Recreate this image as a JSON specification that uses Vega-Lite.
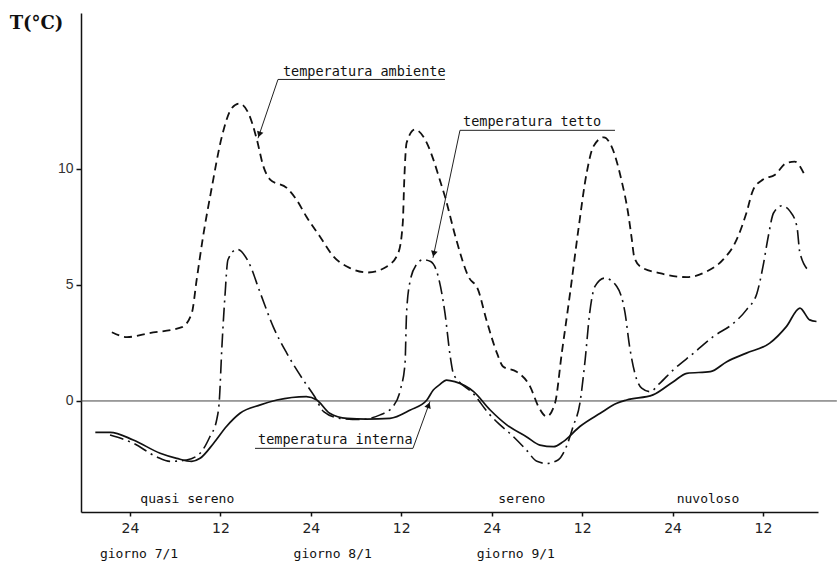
{
  "$schema": "https://vega.github.io/schema/vega-lite/v6.json",
  "width": 737,
  "height": 499,
  "autosize": "none",
  "padding": {"left": 81, "top": 13, "right": 19, "bottom": 54},
  "background": "white",
  "config": {"view": {"stroke": null}},
  "datasets": {
    "temps": [
      {"s": "ambiente", "h": -2.4, "v": 2.96}, {"s": "ambiente", "h": -0.4, "v": 2.75}, {"s": "ambiente", "h": 2.6, "v": 2.92}, {"s": "ambiente", "h": 6.9, "v": 3.18}, {"s": "ambiente", "h": 8.2, "v": 3.78}, {"s": "ambiente", "h": 8.85, "v": 5.22}, {"s": "ambiente", "h": 9.7, "v": 7.08}, {"s": "ambiente", "h": 10.8, "v": 9.09}, {"s": "ambiente", "h": 12.2, "v": 11.39}, {"s": "ambiente", "h": 13.5, "v": 12.6}, {"s": "ambiente", "h": 14.5, "v": 12.8}, {"s": "ambiente", "h": 15.7, "v": 12.4}, {"s": "ambiente", "h": 16.8, "v": 11.3}, {"s": "ambiente", "h": 17.7, "v": 10.1}, {"s": "ambiente", "h": 18.6, "v": 9.53}, {"s": "ambiente", "h": 20.8, "v": 9.17}, {"s": "ambiente", "h": 22.1, "v": 8.66}, {"s": "ambiente", "h": 23.4, "v": 7.94}, {"s": "ambiente", "h": 25.2, "v": 7.08}, {"s": "ambiente", "h": 27.0, "v": 6.22}, {"s": "ambiente", "h": 29.2, "v": 5.72}, {"s": "ambiente", "h": 31.6, "v": 5.53}, {"s": "ambiente", "h": 34.1, "v": 5.79}, {"s": "ambiente", "h": 35.6, "v": 6.37}, {"s": "ambiente", "h": 36.2, "v": 7.66}, {"s": "ambiente", "h": 36.4, "v": 9.53}, {"s": "ambiente", "h": 36.7, "v": 11.1}, {"s": "ambiente", "h": 37.8, "v": 11.68}, {"s": "ambiente", "h": 39.4, "v": 11.1}, {"s": "ambiente", "h": 40.25, "v": 10.4}, {"s": "ambiente", "h": 41.1, "v": 9.53}, {"s": "ambiente", "h": 41.8, "v": 8.8}, {"s": "ambiente", "h": 43.3, "v": 6.94}, {"s": "ambiente", "h": 44.9, "v": 5.36}, {"s": "ambiente", "h": 46.2, "v": 4.78}, {"s": "ambiente", "h": 47.3, "v": 3.49}, {"s": "ambiente", "h": 48.7, "v": 2.06}, {"s": "ambiente", "h": 49.5, "v": 1.48}, {"s": "ambiente", "h": 51.3, "v": 1.26}, {"s": "ambiente", "h": 53.1, "v": 0.62}, {"s": "ambiente", "h": 54.2, "v": -0.24}, {"s": "ambiente", "h": 55.3, "v": -0.67}, {"s": "ambiente", "h": 56.4, "v": -0.1}, {"s": "ambiente", "h": 57.3, "v": 2.06}, {"s": "ambiente", "h": 58.4, "v": 4.64}, {"s": "ambiente", "h": 59.5, "v": 7.37}, {"s": "ambiente", "h": 60.6, "v": 9.81}, {"s": "ambiente", "h": 61.5, "v": 10.96}, {"s": "ambiente", "h": 62.9, "v": 11.35}, {"s": "ambiente", "h": 63.9, "v": 10.96}, {"s": "ambiente", "h": 65.2, "v": 9.53}, {"s": "ambiente", "h": 66.1, "v": 8.09}, {"s": "ambiente", "h": 66.6, "v": 6.94}, {"s": "ambiente", "h": 66.9, "v": 6.22}, {"s": "ambiente", "h": 67.7, "v": 5.79}, {"s": "ambiente", "h": 70.3, "v": 5.5}, {"s": "ambiente", "h": 73.9, "v": 5.33}, {"s": "ambiente", "h": 76.5, "v": 5.57}, {"s": "ambiente", "h": 78.7, "v": 6.08}, {"s": "ambiente", "h": 80.5, "v": 6.94}, {"s": "ambiente", "h": 81.8, "v": 8.09}, {"s": "ambiente", "h": 82.7, "v": 9.09}, {"s": "ambiente", "h": 84.0, "v": 9.53}, {"s": "ambiente", "h": 85.6, "v": 9.74}, {"s": "ambiente", "h": 87.1, "v": 10.24}, {"s": "ambiente", "h": 88.2, "v": 10.3}, {"s": "ambiente", "h": 89.6, "v": 9.67},
      {"s": "tetto", "h": -2.65, "v": -1.47}, {"s": "tetto", "h": 0.44, "v": -1.82}, {"s": "tetto", "h": 3.5, "v": -2.4}, {"s": "tetto", "h": 5.3, "v": -2.6}, {"s": "tetto", "h": 7.5, "v": -2.54}, {"s": "tetto", "h": 9.3, "v": -2.25}, {"s": "tetto", "h": 10.6, "v": -1.54}, {"s": "tetto", "h": 11.5, "v": -0.82}, {"s": "tetto", "h": 11.85, "v": 0.0}, {"s": "tetto", "h": 12.2, "v": 2.34}, {"s": "tetto", "h": 12.6, "v": 4.5}, {"s": "tetto", "h": 13.0, "v": 6.08}, {"s": "tetto", "h": 14.2, "v": 6.53}, {"s": "tetto", "h": 15.7, "v": 6.0}, {"s": "tetto", "h": 17.3, "v": 4.64}, {"s": "tetto", "h": 19.0, "v": 3.2}, {"s": "tetto", "h": 20.8, "v": 2.06}, {"s": "tetto", "h": 23.0, "v": 0.9}, {"s": "tetto", "h": 24.5, "v": 0.19}, {"s": "tetto", "h": 25.7, "v": -0.46}, {"s": "tetto", "h": 27.9, "v": -0.75}, {"s": "tetto", "h": 30.5, "v": -0.8}, {"s": "tetto", "h": 33.2, "v": -0.6}, {"s": "tetto", "h": 35.0, "v": -0.2}, {"s": "tetto", "h": 35.9, "v": 0.5}, {"s": "tetto", "h": 36.5, "v": 1.62}, {"s": "tetto", "h": 36.7, "v": 3.78}, {"s": "tetto", "h": 37.2, "v": 5.2}, {"s": "tetto", "h": 38.0, "v": 5.86}, {"s": "tetto", "h": 38.9, "v": 6.08}, {"s": "tetto", "h": 39.9, "v": 6.0}, {"s": "tetto", "h": 40.9, "v": 5.36}, {"s": "tetto", "h": 41.8, "v": 3.78}, {"s": "tetto", "h": 42.5, "v": 1.91}, {"s": "tetto", "h": 42.9, "v": 1.19}, {"s": "tetto", "h": 43.5, "v": 0.9}, {"s": "tetto", "h": 45.6, "v": 0.3}, {"s": "tetto", "h": 47.5, "v": -0.5}, {"s": "tetto", "h": 49.0, "v": -1.0}, {"s": "tetto", "h": 50.4, "v": -1.39}, {"s": "tetto", "h": 52.6, "v": -2.11}, {"s": "tetto", "h": 54.0, "v": -2.6}, {"s": "tetto", "h": 55.3, "v": -2.69}, {"s": "tetto", "h": 56.8, "v": -2.54}, {"s": "tetto", "h": 57.9, "v": -1.97}, {"s": "tetto", "h": 58.8, "v": -1.1}, {"s": "tetto", "h": 59.7, "v": -0.1}, {"s": "tetto", "h": 60.4, "v": 1.77}, {"s": "tetto", "h": 61.0, "v": 3.78}, {"s": "tetto", "h": 61.7, "v": 4.93}, {"s": "tetto", "h": 63.0, "v": 5.29}, {"s": "tetto", "h": 64.6, "v": 4.93}, {"s": "tetto", "h": 65.7, "v": 3.78}, {"s": "tetto", "h": 66.3, "v": 2.34}, {"s": "tetto", "h": 67.0, "v": 1.19}, {"s": "tetto", "h": 67.9, "v": 0.55}, {"s": "tetto", "h": 69.0, "v": 0.4}, {"s": "tetto", "h": 70.3, "v": 0.76}, {"s": "tetto", "h": 72.1, "v": 1.34}, {"s": "tetto", "h": 74.8, "v": 2.06}, {"s": "tetto", "h": 77.4, "v": 2.77}, {"s": "tetto", "h": 80.1, "v": 3.35}, {"s": "tetto", "h": 81.8, "v": 3.92}, {"s": "tetto", "h": 83.2, "v": 4.64}, {"s": "tetto", "h": 84.0, "v": 5.79}, {"s": "tetto", "h": 84.7, "v": 7.08}, {"s": "tetto", "h": 85.4, "v": 8.09}, {"s": "tetto", "h": 86.5, "v": 8.4}, {"s": "tetto", "h": 87.6, "v": 8.16}, {"s": "tetto", "h": 88.5, "v": 7.51}, {"s": "tetto", "h": 88.9, "v": 6.37}, {"s": "tetto", "h": 90.2, "v": 5.57},
      {"s": "interna", "h": -4.6, "v": -1.35}, {"s": "interna", "h": -2.65, "v": -1.35}, {"s": "interna", "h": 0.44, "v": -1.68}, {"s": "interna", "h": 4.0, "v": -2.25}, {"s": "interna", "h": 6.2, "v": -2.47}, {"s": "interna", "h": 8.2, "v": -2.6}, {"s": "interna", "h": 9.3, "v": -2.47}, {"s": "interna", "h": 11.1, "v": -1.82}, {"s": "interna", "h": 12.8, "v": -1.1}, {"s": "interna", "h": 14.6, "v": -0.53}, {"s": "interna", "h": 17.3, "v": -0.17}, {"s": "interna", "h": 19.5, "v": 0.04}, {"s": "interna", "h": 23.4, "v": 0.19}, {"s": "interna", "h": 24.8, "v": 0.04}, {"s": "interna", "h": 26.5, "v": -0.53}, {"s": "interna", "h": 28.8, "v": -0.75}, {"s": "interna", "h": 31.4, "v": -0.78}, {"s": "interna", "h": 34.5, "v": -0.75}, {"s": "interna", "h": 37.2, "v": -0.39}, {"s": "interna", "h": 39.4, "v": 0.04}, {"s": "interna", "h": 40.25, "v": 0.47}, {"s": "interna", "h": 41.1, "v": 0.7}, {"s": "interna", "h": 42.0, "v": 0.9}, {"s": "interna", "h": 43.1, "v": 0.83}, {"s": "interna", "h": 45.6, "v": 0.4}, {"s": "interna", "h": 47.8, "v": -0.39}, {"s": "interna", "h": 50.0, "v": -1.03}, {"s": "interna", "h": 52.6, "v": -1.54}, {"s": "interna", "h": 54.4, "v": -1.9}, {"s": "interna", "h": 56.2, "v": -1.97}, {"s": "interna", "h": 57.5, "v": -1.75}, {"s": "interna", "h": 59.7, "v": -1.1}, {"s": "interna", "h": 62.4, "v": -0.53}, {"s": "interna", "h": 64.6, "v": -0.1}, {"s": "interna", "h": 65.9, "v": 0.04}, {"s": "interna", "h": 69.4, "v": 0.26}, {"s": "interna", "h": 72.1, "v": 0.83}, {"s": "interna", "h": 73.9, "v": 1.19}, {"s": "interna", "h": 77.0, "v": 1.26}, {"s": "interna", "h": 79.2, "v": 1.69}, {"s": "interna", "h": 81.8, "v": 2.06}, {"s": "interna", "h": 84.9, "v": 2.49}, {"s": "interna", "h": 87.1, "v": 3.2}, {"s": "interna", "h": 88.9, "v": 4.0}, {"s": "interna", "h": 90.2, "v": 3.49}, {"s": "interna", "h": 91.1, "v": 3.42}
    ],
    "segs": [
      {"h": -6.5, "h2": 93.8, "v": 0, "v2": 0, "k": "zero"},
      {"h": 19.64, "h2": 41.8, "v": 13.84, "v2": 13.84, "k": "a"},
      {"h": 19.64, "h2": 16.99, "v": 13.84, "v2": 11.31, "k": "a"},
      {"h": 43.79, "h2": 64.36, "v": 11.65, "v2": 11.65, "k": "a"},
      {"h": 43.79, "h2": 40.21, "v": 11.65, "v2": 6.16, "k": "a"},
      {"h": 16.59, "h2": 37.55, "v": -2.04, "v2": -2.04, "k": "a"},
      {"h": 37.55, "h2": 39.81, "v": -2.04, "v2": -0.02, "k": "a"}
    ],
    "labels": [
      {"h": 20.3, "v": 14.15, "label": "temperatura ambiente"},
      {"h": 44.2, "v": 12.0, "label": "temperatura tetto"},
      {"h": 17.0, "v": -1.7, "label": "temperatura interna"}
    ],
    "notes": [
      {"h": 7.6, "v": -4.23, "label": "quasi sereno"},
      {"h": 52.0, "v": -4.23, "label": "sereno"},
      {"h": 76.7, "v": -4.23, "label": "nuvoloso"},
      {"h": 1.2, "v": -6.59, "label": "giorno 7/1"},
      {"h": 26.9, "v": -6.59, "label": "giorno 8/1"},
      {"h": 51.2, "v": -6.59, "label": "giorno 9/1"}
    ]
  },
  "encoding": {
    "x": {
      "field": "h", "type": "quantitative",
      "scale": {"domain": [-6.5, 91.3], "nice": false, "zero": false},
      "axis": {
        "title": null, "values": [0, 12, 24, 36, 48, 60, 72, 84],
        "labelExpr": "datum.value % 24 == 0 ? '24' : '12'",
        "grid": false, "domainColor": "#111", "domainWidth": 1.5,
        "tickColor": "#111", "tickSize": 4, "tickWidth": 1.5, "labelPadding": 5,
        "labelFont": "DejaVu Sans", "labelFontSize": 14, "labelColor": "#222"
      }
    },
    "y": {
      "field": "v", "type": "quantitative",
      "scale": {"domain": [-4.78, 16.7], "nice": false, "zero": false},
      "axis": {
        "title": "T(°C)", "titleAngle": 0, "titleX": -45, "titleY": 10,
        "titleAlign": "center", "titleBaseline": "middle",
        "titleFont": "DejaVu Serif", "titleFontSize": 18, "titleFontWeight": "bold", "titleColor": "#111",
        "values": [0, 5, 10], "grid": false, "domainColor": "#111", "domainWidth": 1.5,
        "tickColor": "#111", "tickSize": 5, "tickWidth": 1.5, "labelPadding": 3,
        "labelFont": "Liberation Sans", "labelFontSize": 14, "labelColor": "#333"
      }
    }
  },
  "layer": [
    {
      "data": {"name": "segs"},
      "transform": [{"filter": "datum.k == 'zero'"}],
      "mark": {"type": "rule", "color": "#444", "strokeWidth": 1},
      "encoding": {"x2": {"field": "h2"}, "y2": {"field": "v2"}}
    },
    {
      "data": {"name": "segs"},
      "transform": [{"filter": "datum.k == 'a'"}],
      "mark": {"type": "rule", "color": "#222", "strokeWidth": 1},
      "encoding": {"x2": {"field": "h2"}, "y2": {"field": "v2"}}
    },
    {
      "data": {"name": "temps"},
      "transform": [{"filter": "datum.s == 'ambiente'"}],
      "mark": {"type": "line", "interpolate": "monotone", "color": "#111", "strokeWidth": 1.8, "strokeDash": [8, 5]}
    },
    {
      "data": {"name": "temps"},
      "transform": [{"filter": "datum.s == 'tetto'"}],
      "mark": {"type": "line", "interpolate": "monotone", "color": "#111", "strokeWidth": 1.6, "strokeDash": [14, 5, 2, 5]}
    },
    {
      "data": {"name": "temps"},
      "transform": [{"filter": "datum.s == 'interna'"}],
      "mark": {"type": "line", "interpolate": "monotone", "color": "#111", "strokeWidth": 1.7}
    },
    {
      "data": {"values": [{"h": 17.16, "v": 11.47}]},
      "mark": {"type": "point", "shape": "triangle-up", "filled": true, "color": "#111", "size": 45, "angle": 198.7, "opacity": 1}
    },
    {
      "data": {"values": [{"h": 40.31, "v": 6.33}]},
      "mark": {"type": "point", "shape": "triangle-up", "filled": true, "color": "#111", "size": 45, "angle": 191.9, "opacity": 1}
    },
    {
      "data": {"values": [{"h": 39.62, "v": -0.18}]},
      "mark": {"type": "point", "shape": "triangle-up", "filled": true, "color": "#111", "size": 45, "angle": 19.9, "opacity": 1}
    },
    {
      "data": {"name": "labels"},
      "mark": {"type": "text", "align": "left", "baseline": "middle", "font": "DejaVu Sans Mono", "fontSize": 13.5, "color": "#111"},
      "encoding": {"text": {"field": "label"}}
    },
    {
      "data": {"name": "notes"},
      "mark": {"type": "text", "align": "center", "baseline": "middle", "font": "DejaVu Sans Mono", "fontSize": 13, "color": "#111"},
      "encoding": {"text": {"field": "label"}}
    }
  ]
}
